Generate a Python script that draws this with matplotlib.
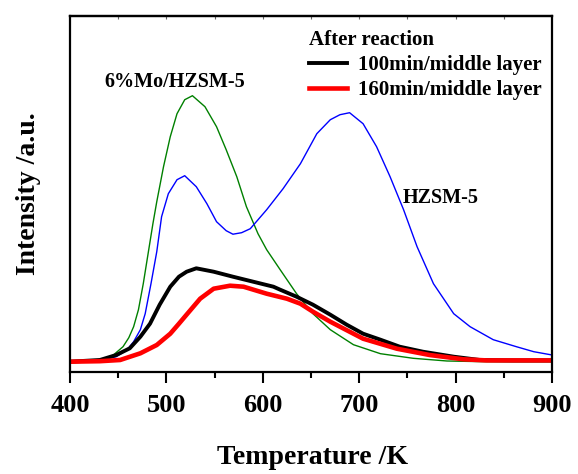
import numpy as np
import matplotlib
matplotlib.use('Agg')
import matplotlib.pyplot as plt
from matplotlib.ticker import MultipleLocator

plt.rcParams['font.family'] = ['Liberation Serif', 'DejaVu Serif']
plt.rcParams['font.weight'] = 'bold'

# 6%Mo/HZSM-5 (green)
t_mo = [408, 420, 434, 445, 455, 461, 466, 471, 476, 481, 486, 490, 497, 504, 511,
        519, 527, 540, 552, 562, 573, 583, 595, 604, 618, 635, 652, 670, 694,
        722, 756, 791, 830, 900]
i_mo = [0, 1, 2.4, 6.7, 15, 24, 35, 52, 78, 108, 138, 160, 195, 225, 248,
        262, 266, 255, 235, 212, 185, 155, 128, 112, 92, 68, 48, 32, 17,
        8, 3.4, 0.7, 0, 0]

# HZSM-5 (blue)
t_h = [408, 420, 435, 448, 459, 466, 473, 478, 484, 490, 495, 502, 511, 519, 531,
       542, 552, 562, 569, 578, 587, 604, 621, 639, 656, 670, 680, 690, 704,
       718, 732, 746, 760, 777, 798, 815, 839, 863, 881, 900]
i_h = [0, 1, 2.4, 5, 11.7, 20, 32, 48, 78, 110, 145, 168, 182, 186, 175,
       158, 140, 131, 127.5, 129, 133, 152, 173, 198, 228, 242, 247, 249, 238,
       215, 185, 152, 115, 78, 48, 35, 22, 15, 10, 6.7]

# after reaction, 100 min (black)
t_100 = [400, 431, 448, 462, 473, 483, 493, 504, 513, 521, 531, 549, 569, 590,
         611, 618, 635, 652, 670, 687, 704, 722, 742, 766, 798, 825, 860, 900]
i_100 = [0, 1.7, 6.7, 13.4, 25, 38, 57, 75, 85, 90, 93.4, 90, 85, 80,
         75, 72, 65, 57, 47, 37, 28, 22, 15, 10, 5, 1.7, 1.3, 1.3]

# after reaction, 160 min (red)
t_160 = [400, 431, 452, 473, 490, 504, 513, 520, 535, 549, 566, 580, 604, 625,
         639, 652, 670, 704, 739, 773, 808, 832, 900]
i_160 = [0, 0.5, 1.7, 8.4, 16.7, 28, 38, 46, 63, 73, 76, 75, 68, 63,
         58, 50, 40, 23, 13, 6.7, 2.4, 1.3, 1.3]

fig = plt.figure(figsize=(5.78, 4.74), dpi=100)
ax = fig.add_axes([0.1211, 0.2152, 0.834, 0.751])

ax.plot(t_mo, i_mo, color='green', lw=1.0)
ax.plot(t_h, i_h, color='blue', lw=1.0)
ax.plot(t_100, i_100, color='black', lw=2.8, label='100min/middle layer')
ax.plot(t_160, i_160, color='red', lw=3.3, label='160min/middle layer')

ax.set_xlim(400, 900)
ax.set_ylim(-10.3, 345.7)
ax.set_yticks([])
ax.xaxis.set_major_locator(MultipleLocator(100))
ax.xaxis.set_minor_locator(MultipleLocator(50))
ax.tick_params(axis='x', which='major', direction='out', length=8, width=1.5,
               labelsize=19, pad=8)
ax.tick_params(axis='x', which='minor', direction='out', length=4, width=1.5)
for s in ax.spines.values():
    s.set_linewidth(1.6)

# small marks along the top edge
top = ax.secondary_xaxis('top')
top.set_xticks(np.arange(450, 900, 50))
top.tick_params(direction='in', length=2.5, width=0.8, labeltop=False, color='0.4')
top.spines['top'].set_linewidth(1.6)

ax.set_xlabel('Temperature /K', fontsize=20, fontweight='bold', va='center')
ax.xaxis.set_label_coords(0.504, -0.24)
ax.set_ylabel('Intensity /a.u.', fontsize=20, fontweight='bold', va='center')
ax.yaxis.set_label_coords(-0.087, 0.5)

ax.text(509, 280, '6%Mo/HZSM-5', fontsize=14.5, fontweight='bold',
        ha='center', va='center')
ax.text(785, 164, 'HZSM-5', fontsize=14.5, fontweight='bold',
        ha='center', va='center')

leg = ax.legend(title='After reaction', loc='upper right', bbox_to_anchor=(1.0, 0.99),
                frameon=False, fontsize=15,
                title_fontproperties={'size': 15, 'weight': 'bold'},
                handlelength=1.85, handletextpad=0.5, labelspacing=0.24,
                borderaxespad=0.2, borderpad=0.3, alignment='left')

fig.savefig('out.png', dpi=100)
